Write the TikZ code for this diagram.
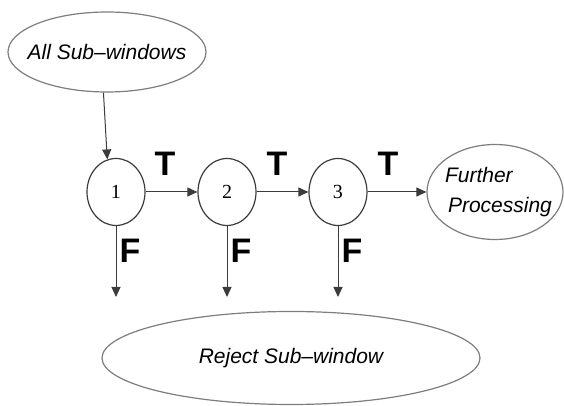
\documentclass[tikz,border=0pt]{standalone}
\usepackage{fontspec}
\setmainfont{Liberation Serif}
\newfontfamily\arialfont{Liberation Sans}
\usepackage{tikz}
\usetikzlibrary{positioning,arrows.meta,shapes.geometric}
\definecolor{edgeG}{RGB}{125,125,125}
\definecolor{lineG}{RGB}{60,60,60}

\begin{document}
\begin{tikzpicture}[x=0.5pt,y=-0.5pt,
  stage/.style={
    draw=lineG, ellipse, line width=0.6pt,
    minimum width=29pt, minimum height=33.5pt,
    font=\fontsize{10}{12}\selectfont, inner sep=0pt
  },
  blob/.style={
    draw=edgeG, ellipse, line width=0.6pt, inner sep=-8pt,
    font=\arialfont\itshape\fontsize{10.5}{15}\selectfont
  },
  tf/.style={font=\arialfont\bfseries\fontsize{17}{17}\selectfont},
  a/.style={-{Triangle[length=5pt,width=4.5pt]},lineG,line width=0.5pt}
]
\useasboundingbox (0,0) rectangle (564,406);

% Start
\node[blob,minimum width=99pt,minimum height=40pt] (all) at (107,52)
  {All Sub–windows};

% Cascade
\node[stage] (s1) at (116,192) {1};
\node[stage] (s2) at (227,192) {2};
\node[stage] (s3) at (338,192) {3};

\node[blob,minimum width=68pt,minimum height=47.5pt,align=left] (fp)
  at (495,192) {\hspace*{3.5pt}Further\\\hspace*{5pt}Processing};

% Reject
\node[blob,minimum width=189pt,minimum height=46.5pt] (rej) at (291,358)
  {Reject Sub–window};

\coordinate (f1) at (116,297);
\coordinate (f2) at (227,297);
\coordinate (f3) at (338,297);

% True arrows
\draw[a] (all.-95)--(s1.105);
\draw[a] (s1.east)--(s2.west);
\draw[a] (s2.east)--(s3.west);
\draw[a] (s3.east)--(fp.west);

\node[tf] (t1) at (165,164) {T};
\node[tf] (t2) at (277,164) {T};
\node[tf] (t3) at (388,164) {T};

% False arrows
\draw[a] (s1.south)--(f1);
\draw[a] (s2.south)--(f2);
\draw[a] (s3.south)--(f3);

\node[tf] (n1) at (130,251) {F};
\node[tf] (n2) at (241,251) {F};
\node[tf] (n3) at (352,251) {F};
\end{tikzpicture}
\end{document}
